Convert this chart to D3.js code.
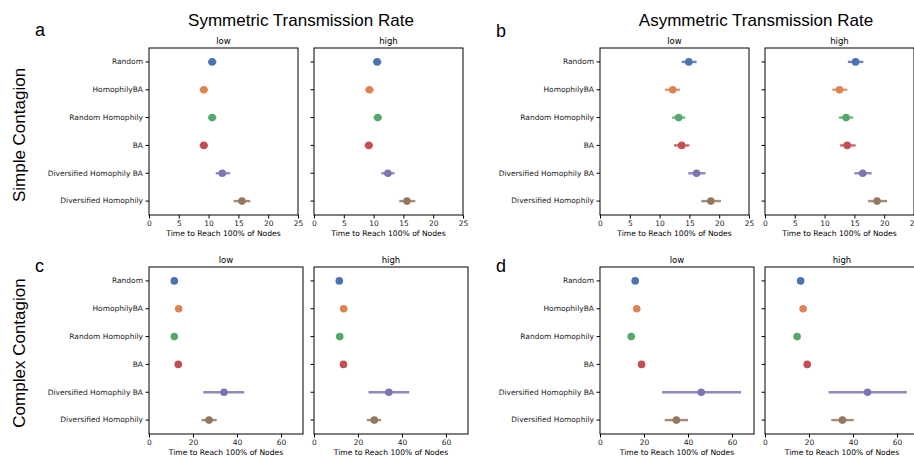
<!DOCTYPE html>
<html>
<head>
<meta charset="utf-8">
<script src="https://cdn.jsdelivr.net/npm/d3@7"></script>
<style>
  body { margin: 0; background: #fff; }
  svg { display: block; }
  .tick text { font-family: "DejaVu Sans", sans-serif; font-size: 7.5px; fill: #222; }
  .tick line { stroke: #000; }
</style>
</head>
<body>
<div id="chart"></div>
<script>
// categories (top to bottom)
const categories = ["Random", "HomophilyBA", "Random Homophily", "BA", "Diversified Homophily BA", "Diversified Homophily"];
const colors = ["#4C72B0", "#DD8452", "#55A868", "#C44E52", "#8172B3", "#937860"];

// a: simple contagion, symmetric rate
const aLowMean = [10.6, 9.2, 10.6, 9.2, 12.3, 15.6];
const aLowLo   = [9.9, 8.5, 9.9, 8.5, 11.2, 14.2];
const aLowHi   = [11.3, 9.9, 11.3, 9.9, 13.6, 17.0];
const aHighMean = [10.6, 9.3, 10.7, 9.2, 12.4, 15.6];
const aHighLo   = [9.9, 8.6, 10.0, 8.5, 11.3, 14.3];
const aHighHi   = [11.3, 10.0, 11.4, 9.9, 13.5, 17.0];

// b: simple contagion, asymmetric rate
const bLowMean = [14.9, 12.2, 13.2, 13.7, 16.2, 18.6];
const bLowLo   = [13.7, 10.9, 12.1, 12.4, 14.8, 17.0];
const bLowHi   = [16.2, 13.4, 14.3, 15.0, 17.7, 20.3];
const bHighMean = [15.2, 12.5, 13.6, 13.8, 16.4, 18.8];
const bHighLo   = [13.9, 11.3, 12.4, 12.6, 15.0, 17.3];
const bHighHi   = [16.5, 13.8, 14.8, 15.2, 17.9, 20.5];

// c: complex contagion, symmetric rate
const cLowMean = [11.5, 13.5, 11.5, 13.3, 34.1, 27.3];
const cLowLo   = [11.1, 13.1, 11.1, 12.9, 24.7, 23.9];
const cLowHi   = [11.9, 13.9, 11.9, 13.7, 43.3, 30.8];
const cHighMean = [11.5, 13.5, 11.7, 13.4, 34.0, 27.4];
const cHighLo   = [11.1, 13.1, 11.3, 13.0, 24.8, 24.0];
const cHighHi   = [11.9, 13.9, 12.1, 13.8, 43.3, 30.5];

// d: complex contagion, asymmetric rate
const dLowMean = [16.0, 16.7, 14.2, 18.9, 46.0, 34.7];
const dLowLo   = [15.4, 15.9, 13.6, 17.9, 28.2, 29.4];
const dLowHi   = [16.6, 17.5, 14.8, 19.9, 64.1, 40.0];
const dHighMean = [16.2, 17.3, 14.6, 19.2, 46.6, 35.2];
const dHighLo   = [15.6, 16.5, 14.0, 18.2, 28.9, 30.1];
const dHighHi   = [16.8, 18.1, 15.2, 20.2, 64.5, 40.3];

const xTicksSimple = [0, 5, 10, 15, 20, 25];
const xTicksComplex = [0, 20, 40, 60];
const xLabel = "Time to Reach 100% of Nodes";

const width = 914, height = 457;

const svg = d3.select("#chart")
  .append("svg")
    .attr("width", width)
    .attr("height", height);

// panel layout
const panels = [
  {x0: 149, x1: 298, y0: 48, y1: 215, max: 25, ticks: xTicksSimple, title: "low", mean: aLowMean, lo: aLowLo, hi: aLowHi, labels: true},
  {x0: 314, x1: 463, y0: 48, y1: 215, max: 25, ticks: xTicksSimple, title: "high", mean: aHighMean, lo: aHighLo, hi: aHighHi, labels: false},
  {x0: 600, x1: 749, y0: 48, y1: 215, max: 25, ticks: xTicksSimple, title: "low", mean: bLowMean, lo: bLowLo, hi: bLowHi, labels: true},
  {x0: 765, x1: 914, y0: 48, y1: 215, max: 25, ticks: xTicksSimple, title: "high", mean: bHighMean, lo: bHighLo, hi: bHighHi, labels: false},
  {x0: 149, x1: 303, y0: 267, y1: 434, max: 70, ticks: xTicksComplex, title: "low", mean: cLowMean, lo: cLowLo, hi: cLowHi, labels: true},
  {x0: 314, x1: 468, y0: 267, y1: 434, max: 70, ticks: xTicksComplex, title: "high", mean: cHighMean, lo: cHighLo, hi: cHighHi, labels: false},
  {x0: 600, x1: 754, y0: 267, y1: 434, max: 70, ticks: xTicksComplex, title: "low", mean: dLowMean, lo: dLowLo, hi: dLowHi, labels: true},
  {x0: 765, x1: 919, y0: 267, y1: 434, max: 70, ticks: xTicksComplex, title: "high", mean: dHighMean, lo: dHighLo, hi: dHighHi, labels: false},
];

panels.forEach(p => {
  const g = svg.append("g");

  const xScale = d3.scaleLinear()
    .domain([0, p.max])
    .range([p.x0, p.x1]);

  const yScale = d3.scaleBand()
    .domain(categories)
    .range([p.y0, p.y1])
    .padding(0);

  const yPos = d => yScale(d) + yScale.bandwidth() / 2;

  // x axis
  const xAxis = g.append("g")
    .attr("transform", `translate(0,${p.y1})`)
    .call(d3.axisBottom(xScale).tickValues(p.ticks).tickSize(3.5).tickPadding(2));
  xAxis.select(".domain").remove();

  // y axis
  const yAxis = g.append("g")
    .attr("transform", `translate(${p.x0},0)`)
    .call(d3.axisLeft(yScale).tickSize(3.5).tickPadding(2.5)
      .tickFormat(p.labels ? d => d : () => ""));
  yAxis.select(".domain").remove();

  // frame
  g.append("rect")
    .attr("x", p.x0)
    .attr("y", p.y0)
    .attr("width", p.x1 - p.x0)
    .attr("height", p.y1 - p.y0)
    .attr("fill", "none")
    .attr("stroke", "#000")
    .attr("stroke-width", 1);

  // subplot title
  g.append("text")
    .attr("x", (p.x0 + p.x1) / 2)
    .attr("y", p.y0 - 4)
    .attr("text-anchor", "middle")
    .style("font-family", "DejaVu Sans, sans-serif")
    .style("font-size", "8.5px")
    .text(p.title);

  // x label
  g.append("text")
    .attr("x", (p.x0 + p.x1) / 2)
    .attr("y", p.y1 + 21)
    .attr("text-anchor", "middle")
    .style("font-family", "DejaVu Sans, sans-serif")
    .style("font-size", "7.6px")
    .text(xLabel);

  // error bars
  g.selectAll(".err")
    .data(categories)
    .enter()
    .append("line")
      .attr("x1", (d, i) => xScale(p.lo[i]))
      .attr("x2", (d, i) => xScale(p.hi[i]))
      .attr("y1", d => yPos(d))
      .attr("y2", d => yPos(d))
      .attr("stroke", (d, i) => colors[i])
      .attr("stroke-opacity", 0.85)
      .attr("stroke-width", 2.4);

  // points
  g.selectAll(".pt")
    .data(categories)
    .enter()
    .append("circle")
      .attr("cx", (d, i) => xScale(p.mean[i]))
      .attr("cy", d => yPos(d))
      .attr("r", 3.8)
      .attr("fill", (d, i) => colors[i]);
});

// column titles
const bigFont = "Liberation Sans, Arial, sans-serif";
svg.append("text")
  .attr("x", 301).attr("y", 26)
  .attr("text-anchor", "middle")
  .style("font-family", bigFont).style("font-size", "17px")
  .text("Symmetric Transmission Rate");
svg.append("text")
  .attr("x", 756).attr("y", 26)
  .attr("text-anchor", "middle")
  .style("font-family", bigFont).style("font-size", "17px")
  .text("Asymmetric Transmission Rate");

// panel letters
[["a", 35, 36], ["b", 496, 37], ["c", 35, 272], ["d", 496, 272]].forEach(([t, x, y]) => {
  svg.append("text")
    .attr("x", x).attr("y", y)
    .style("font-family", bigFont).style("font-size", "18px")
    .text(t);
});

// row titles
[["Simple Contagion", 135], ["Complex Contagion", 353]].forEach(([t, y]) => {
  svg.append("text")
    .attr("transform", `translate(25,${y}) rotate(-90)`)
    .attr("text-anchor", "middle")
    .style("font-family", bigFont).style("font-size", "17px")
    .text(t);
});
</script>
</body>
</html>
